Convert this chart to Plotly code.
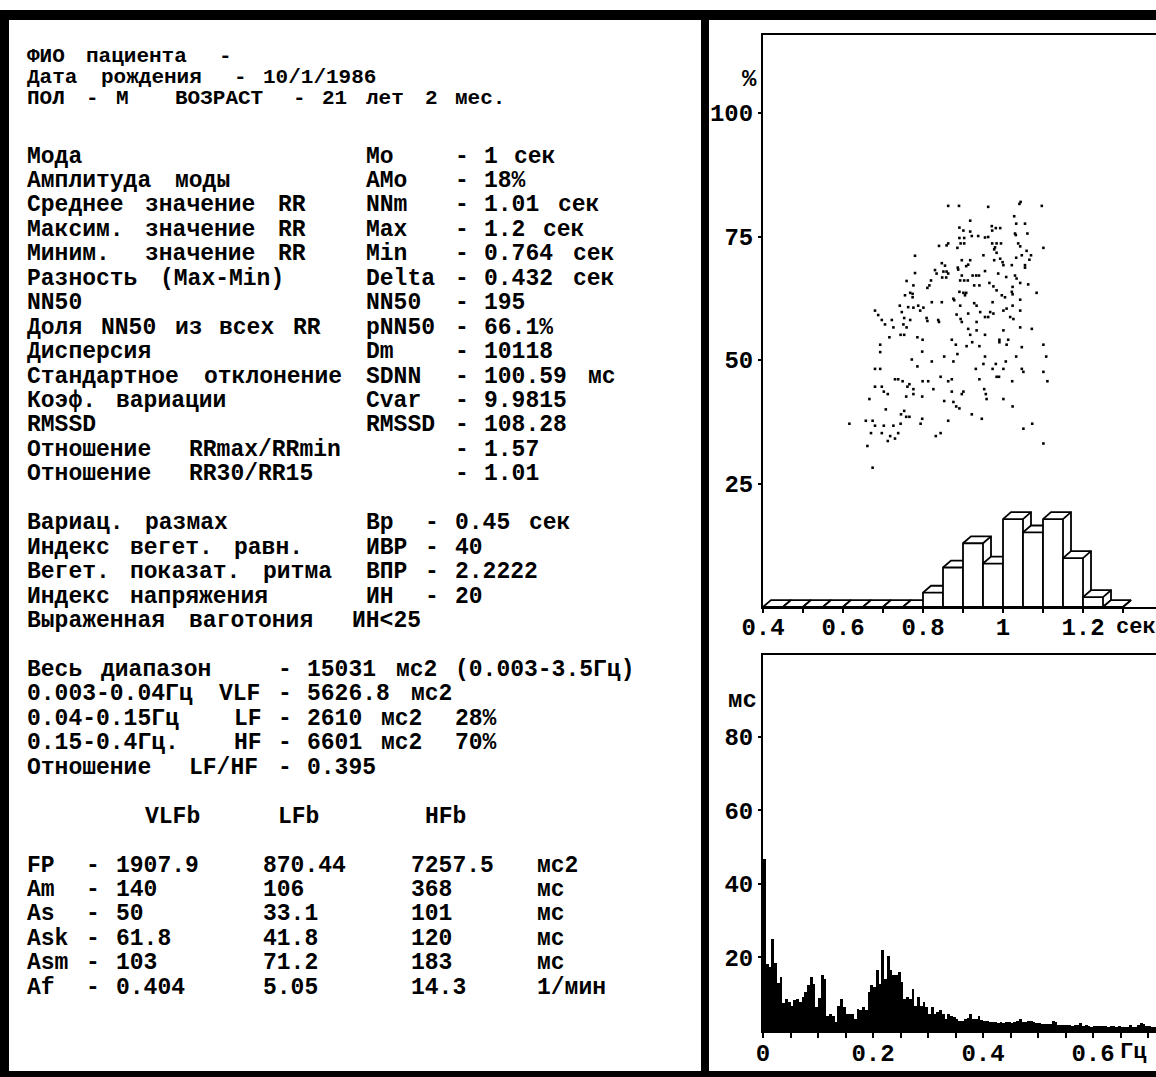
import re
import plotly.graph_objects as go

W, H = 1156, 1077

# ---------------- data ----------------
# RR-interval histogram (bins of 0.05 s), percent
HIST_BIN_START = [0.40, 0.45, 0.50, 0.55, 0.60, 0.65, 0.70, 0.75, 0.80,
                  0.85, 0.90, 0.95, 1.00, 1.05, 1.10, 1.15, 1.20, 1.25]
HIST_PCT = [0, 0, 0, 0, 0, 0, 0, 0, 2.9, 8.0, 12.9, 8.8, 17.8, 15.1, 17.8, 9.9, 2.0, 0]
BIN_WIDTH = 0.05

# scatter cloud drawn over the histogram
SCAT_X = [
    0.863, 0.890, 0.963, 1.044, 1.041, 1.097, 1.028, 0.918, 1.033, 1.055,
    0.891, 0.901, 0.972, 0.982, 0.993, 0.973, 0.918, 0.922, 0.938, 0.955,
    0.963, 1.030, 1.061, 1.032, 0.891, 0.903, 0.894, 0.903, 0.973, 0.984,
    0.995, 0.980, 0.978, 1.038, 1.043, 0.840, 0.859, 0.863, 0.886, 1.101,
    0.984, 1.059, 0.780, 0.951, 0.897, 0.918, 0.913, 0.908, 0.887, 0.888,
    0.847, 0.855, 0.978, 0.993, 0.999, 1.001, 1.047, 1.033, 1.070, 1.066,
    1.022, 1.055, 1.055, 0.830, 0.851, 0.859, 0.863, 0.834, 0.780, 0.897,
    0.924, 0.933, 0.940, 0.955, 0.988, 1.030, 1.034, 1.008, 0.848, 0.858,
    0.820, 0.816, 0.811, 0.759, 0.776, 0.893, 0.903, 0.912, 0.928, 0.941,
    0.966, 0.976, 0.984, 1.043, 1.063, 1.024, 1.022, 1.024, 1.084, 0.768,
    0.774, 0.755, 0.774, 0.891, 0.901, 0.908, 0.905, 0.876, 0.878, 0.997,
    1.005, 0.847, 0.822, 0.788, 0.742, 0.763, 0.776, 0.801, 0.928, 0.934,
    0.974, 1.043, 1.024, 0.893, 0.680, 0.688, 0.697, 0.705, 0.722, 0.726,
    0.747, 0.753, 0.768, 0.793, 0.809, 0.811, 0.838, 0.840, 0.884, 0.894,
    0.897, 0.913, 0.934, 0.943, 0.955, 0.963, 0.968, 0.976, 1.001, 1.009,
    1.018, 1.026, 1.043, 0.751, 0.759, 0.913, 0.934, 1.001, 1.043, 1.072,
    0.716, 0.744, 0.753, 0.786, 0.799, 0.955, 0.918, 0.872, 0.882, 0.909,
    0.923, 0.941, 0.991, 0.991, 1.013, 1.009, 1.047, 1.101, 0.693, 0.693,
    0.798, 0.886, 0.853, 0.955, 1.033, 1.108, 0.772, 0.822, 0.876, 0.951,
    0.982, 1.007, 0.786, 0.680, 0.693, 0.932, 0.974, 1.001, 1.047, 1.051,
    1.101, 0.984, 0.990, 0.844, 0.941, 1.023, 1.111, 0.730, 0.738, 0.749,
    0.766, 0.761, 0.799, 0.813, 0.863, 0.872, 0.680, 0.697, 0.702, 0.712,
    0.776, 0.776, 0.758, 0.798, 0.826, 0.872, 0.897, 0.901, 0.953, 0.957,
    0.959, 1.001, 0.666, 0.853, 0.876, 0.883, 0.891, 1.024, 0.707, 0.753,
    0.745, 0.758, 0.766, 0.798, 0.794, 0.863, 0.922, 0.947, 0.616, 0.657,
    0.674, 0.680, 0.702, 0.726, 0.744, 0.670, 0.697, 0.718, 0.730, 0.738,
    0.712, 0.832, 0.844, 1.051, 1.073, 0.661, 0.674, 1.101,
]
SCAT_Y = [
    81.2, 81.2, 81.0, 82.0, 81.6, 81.2, 79.1, 78.2, 77.6, 77.6,
    76.8, 76.2, 77.1, 76.7, 76.7, 76.2, 76.0, 75.1, 75.1, 74.8,
    74.9, 75.6, 75.6, 75.3, 74.7, 74.7, 73.6, 73.6, 73.6, 73.6,
    73.6, 72.8, 72.4, 73.6, 73.0, 73.1, 73.2, 73.6, 72.7, 72.7,
    71.7, 72.1, 71.1, 71.2, 70.2, 70.2, 69.3, 69.0, 68.7, 68.3,
    69.6, 69.1, 70.2, 70.5, 69.8, 69.2, 71.2, 70.7, 71.2, 70.3,
    69.2, 69.2, 68.7, 68.2, 67.9, 67.9, 67.5, 67.5, 67.6, 67.1,
    67.1, 67.1, 67.1, 68.0, 67.5, 67.1, 66.5, 66.8, 66.7, 66.7,
    66.1, 65.1, 64.6, 66.0, 65.1, 66.1, 66.1, 66.1, 65.1, 65.1,
    65.6, 64.9, 64.1, 65.6, 65.3, 64.8, 63.8, 63.3, 63.6, 63.6,
    63.4, 63.1, 62.7, 63.8, 63.6, 63.6, 63.1, 62.4, 62.1, 63.1,
    62.7, 61.7, 61.7, 61.0, 61.0, 60.7, 60.6, 60.6, 61.5, 61.0,
    61.7, 62.2, 61.0, 61.0, 60.0, 59.1, 58.1, 57.2, 58.1, 56.6,
    59.7, 58.5, 58.1, 60.0, 58.5, 57.9, 58.1, 57.7, 59.2, 58.3,
    57.7, 59.4, 57.7, 59.7, 58.7, 58.7, 59.7, 59.4, 60.0, 60.4,
    58.7, 58.3, 60.0, 57.2, 56.6, 56.3, 56.0, 56.0, 56.6, 56.3,
    54.6, 55.1, 55.1, 54.6, 54.1, 55.1, 55.1, 54.1, 53.1, 52.8,
    53.6, 52.8, 54.1, 53.6, 54.1, 53.1, 52.6, 53.1, 53.1, 51.6,
    51.7, 51.2, 50.7, 50.7, 50.7, 50.7, 50.1, 49.7, 49.7, 49.2,
    49.2, 49.7, 48.7, 48.2, 48.2, 48.2, 48.2, 48.2, 48.2, 47.6,
    47.6, 46.6, 46.6, 46.6, 46.1, 45.7, 45.7, 46.1, 46.1, 45.7,
    45.1, 44.6, 45.7, 45.7, 45.7, 46.1, 44.6, 44.6, 43.6, 43.1,
    44.1, 43.1, 42.6, 42.6, 44.1, 43.6, 43.1, 43.6, 44.1, 43.1,
    42.1, 42.1, 42.1, 41.7, 41.5, 40.6, 40.2, 40.6, 40.0, 39.7,
    39.0, 38.5, 38.5, 38.1, 37.1, 37.7, 39.0, 38.1, 37.1, 37.7,
    37.7, 36.7, 36.7, 36.7, 37.1, 35.2, 35.2, 34.6, 34.1, 35.2,
    33.6, 34.6, 35.2, 36.1, 37.1, 32.6, 28.2, 33.1,
]

# spectrum (Hz, ms), frequency step 0.005 Hz
SPEC_STEP = 0.005
SPEC_AMP = [
    46.7, 18.3, 17.5, 25.0, 18.5, 13.0, 14.6, 7.5, 8.7, 7.8,
    6.9, 8.3, 8.7, 7.8, 9.2, 10.6, 12.4, 14.6, 12.8, 6.5,
    9.0, 15.1, 14.2, 4.0, 4.7, 4.2, 2.4, 6.9, 8.7, 6.5,
    4.7, 4.7, 4.7, 3.3, 6.0, 5.6, 6.5, 5.6, 10.6, 12.4,
    11.9, 16.5, 12.8, 21.9, 14.0, 20.3, 16.5, 15.1, 15.1, 16.0,
    13.3, 8.7, 9.2, 8.7, 11.5, 6.9, 9.2, 6.9, 7.8, 6.5,
    4.7, 6.5, 4.7, 5.1, 5.8, 4.7, 3.3, 4.5, 4.2, 3.7,
    3.3, 2.7, 2.7, 3.3, 3.5, 4.7, 3.3, 3.3, 4.0, 2.9,
    2.7, 2.7, 2.4, 2.4, 2.4, 2.2, 2.4, 2.2, 2.4, 2.4,
    2.3, 2.4, 2.6, 3.3, 2.4, 2.4, 2.6, 2.6, 2.4, 2.3,
    2.2, 2.0, 2.0, 1.9, 2.0, 2.7, 2.4, 1.6, 1.5, 1.5,
    1.5, 1.5, 1.4, 1.5, 1.6, 2.1, 1.3, 1.5, 1.3, 1.2,
    1.3, 1.3, 1.4, 1.3, 1.3, 1.2, 1.3, 1.3, 1.2, 1.3,
    1.2, 1.1, 1.1, 1.6, 1.2, 1.1, 1.5, 2.1, 1.8, 1.3,
    1.3, 1.2, 1.2, 1.1,
]
SPEC_FREQ = [round(i * SPEC_STEP, 3) for i in range(len(SPEC_AMP))]

# axis ticks
HIST_TICKS = [0.4, 0.5, 0.6, 0.7, 0.8, 0.9, 1.0, 1.1, 1.2, 1.3]
HIST_TICKTEXT = ["0.4", "", "0.6", "", "0.8", "", "1", "", "1.2", ""]
HIST_YTICKS = [25, 50, 75, 100]
SPEC_TICKS = [0, 0.05, 0.1, 0.15, 0.2, 0.25, 0.3, 0.35, 0.4, 0.45, 0.5, 0.55, 0.6, 0.65, 0.7]
SPEC_TICKTEXT = ["0", "", "", "", "0.2", "", "", "", "0.4", "", "", "", "0.6", "", ""]
SPEC_YTICKS = [20, 40, 60, 80]

# report text: (row, [(column, text), ...])
HEADER_ROWS = [
    (0, [(0, "ФИО пациента -")]),
    (1, [(0, "Дата рождения - 10/1/1986")]),
    (2, [(0, "ПОЛ - М"), (10, "ВОЗРАСТ - 21 лет 2 мес.")]),
]
STAT_ROWS = [
    (0, [(0, "Мода"), (23, "Mo"), (29, "- 1 сек")]),
    (1, [(0, "Амплитуда моды"), (23, "AMo"), (29, "- 18%")]),
    (2, [(0, "Среднее значение RR"), (23, "NNm"), (29, "- 1.01 сек")]),
    (3, [(0, "Максим. значение RR"), (23, "Max"), (29, "- 1.2 сек")]),
    (4, [(0, "Миним."), (8, "значение RR"), (23, "Min"), (29, "- 0.764 сек")]),
    (5, [(0, "Разность (Max-Min)"), (23, "Delta"), (29, "- 0.432 сек")]),
    (6, [(0, "NN50"), (23, "NN50"), (29, "- 195")]),
    (7, [(0, "Доля NN50 из всех RR"), (23, "pNN50"), (29, "- 66.1%")]),
    (8, [(0, "Дисперсия"), (23, "Dm"), (29, "- 10118")]),
    (9, [(0, "Стандартное отклонение"), (23, "SDNN"), (29, "- 100.59 мс")]),
    (10, [(0, "Коэф. вариации"), (23, "Cvar"), (29, "- 9.9815")]),
    (11, [(0, "RMSSD"), (23, "RMSSD"), (29, "- 108.28")]),
    (12, [(0, "Отношение"), (11, "RRmax/RRmin"), (29, "- 1.57")]),
    (13, [(0, "Отношение"), (11, "RR30/RR15"), (29, "- 1.01")]),
    (15, [(0, "Вариац. размах"), (23, "Вр"), (27, "- 0.45 сек")]),
    (16, [(0, "Индекс вегет. равн."), (23, "ИВР - 40")]),
    (17, [(0, "Вегет. показат. ритма"), (23, "ВПР - 2.2222")]),
    (18, [(0, "Индекс напряжения"), (23, "ИН"), (27, "- 20")]),
    (19, [(0, "Выраженная ваготония"), (22, "ИН<25")]),
    (21, [(0, "Весь диапазон"), (17, "- 15031 мс2 (0.003-3.5Гц)")]),
    (22, [(0, "0.003-0.04Гц VLF - 5626.8 мс2")]),
    (23, [(0, "0.04-0.15Гц"), (14, "LF - 2610 мс2"), (29, "28%")]),
    (24, [(0, "0.15-0.4Гц."), (14, "HF - 6601 мс2"), (29, "70%")]),
    (25, [(0, "Отношение"), (11, "LF/HF - 0.395")]),
    (27, [(8, "VLFb"), (17, "LFb"), (27, "HFb")]),
    (29, [(0, "FP"), (4, "- 1907.9"), (16, "870.44"), (26, "7257.5"), (34.6, "мс2")]),
    (30, [(0, "Am"), (4, "- 140"), (16, "106"), (26, "368"), (34.6, "мс")]),
    (31, [(0, "As"), (4, "- 50"), (16, "33.1"), (26, "101"), (34.6, "мс")]),
    (32, [(0, "Ask"), (4, "- 61.8"), (16, "41.8"), (26, "120"), (34.6, "мс")]),
    (33, [(0, "Asm"), (4, "- 103"), (16, "71.2"), (26, "183"), (34.6, "мс")]),
    (34, [(0, "Af"), (4, "- 0.404"), (16, "5.05"), (26, "14.3"), (34.6, "1/мин")]),
]

# ---------------- style ----------------
FONT = "Liberation Mono"
TXT = dict(family=FONT, size=23, color="black", weight="bold")
HDR = dict(family=FONT, size=21, color="black", weight="bold")
TICKF = dict(family=FONT, size=24, color="black", weight="bold")
UNITF = dict(family=FONT, size=22, color="black", weight="bold")
TEXT_X0, CELL_W = 26, 14.75
HEADER_Y0, HEADER_DY = 57, 20.5
STAT_Y0, STAT_DY = 156.5, 24.45
DEPTH_X, DEPTH_Y = 0.02, 1.4

X_LEFT = 763
TOP_Y0, TOP_BASE, TOP_SCALE = 35, 607, 4.94
BOT_Y0, BOT_BASE, BOT_SCALE = 655, 1031, 3.68

fig = go.Figure()

# 3D histogram bars
for start, pct in zip(HIST_BIN_START, HIST_PCT):
    x0, x1 = start, start + BIN_WIDTH
    fig.add_trace(go.Scatter(
        x=[x0, x0, x0 + DEPTH_X, x1 + DEPTH_X, x1 + DEPTH_X, x1, x0],
        y=[0, pct, pct + DEPTH_Y, pct + DEPTH_Y, DEPTH_Y, 0, 0],
        mode="lines", fill="toself", fillcolor="white",
        line=dict(color="black", width=1.8), hoverinfo="skip",
        xaxis="x", yaxis="y"))
    fig.add_trace(go.Scatter(
        x=[x0, x1, x1, None, x1, x1 + DEPTH_X],
        y=[pct, pct, 0, None, pct, pct + DEPTH_Y],
        mode="lines", line=dict(color="black", width=1.8),
        hoverinfo="skip", xaxis="x", yaxis="y"))

fig.add_trace(go.Scatter(
    x=SCAT_X, y=SCAT_Y, mode="markers",
    marker=dict(symbol="square", size=2.6, color="black", line=dict(width=0)),
    hoverinfo="skip", xaxis="x", yaxis="y"))

fig.add_trace(go.Bar(
    x=SPEC_FREQ, y=SPEC_AMP, width=SPEC_STEP, offset=0,
    marker=dict(color="black", line=dict(width=0)),
    hoverinfo="skip", xaxis="x2", yaxis="y2"))

axis_common = dict(showline=True, linecolor="black", linewidth=2,
                   showgrid=False, zeroline=False, ticks="outside",
                   tickcolor="black", tickwidth=2, tickfont=TICKF,
                   fixedrange=True, automargin=False)

fig.update_layout(
    width=W, height=H,
    margin=dict(l=0, r=0, t=0, b=0, pad=0, autoexpand=False),
    paper_bgcolor="white", plot_bgcolor="white", showlegend=False,
    bargap=0,
    xaxis=dict(domain=[X_LEFT / W, 1], range=[0.4, 0.4 + (W - X_LEFT) / 400],
               anchor="y", mirror=True, ticklen=4, ticklabelstandoff=-7,
               tickmode="array", tickvals=HIST_TICKS, ticktext=HIST_TICKTEXT,
               **axis_common),
    yaxis=dict(domain=[1 - TOP_BASE / H, 1 - TOP_Y0 / H],
               range=[0, (TOP_BASE - TOP_Y0) / TOP_SCALE], anchor="x",
               ticklen=3, tickmode="array", tickvals=HIST_YTICKS,
               ticktext=[str(v) for v in HIST_YTICKS], **axis_common),
    xaxis2=dict(domain=[X_LEFT / W, 1], range=[0, (W - X_LEFT) / 550],
                anchor="y2", mirror=True, ticklen=5, ticklabelstandoff=-6,
                tickmode="array", tickvals=SPEC_TICKS, ticktext=SPEC_TICKTEXT,
                **axis_common),
    yaxis2=dict(domain=[1 - BOT_BASE / H, 1 - BOT_Y0 / H],
                range=[0, (BOT_BASE - BOT_Y0) / BOT_SCALE], anchor="x2",
                ticklen=3, tickmode="array", tickvals=SPEC_YTICKS,
                ticktext=[str(v) for v in SPEC_YTICKS], **axis_common),
)

annotations = []


def add_text(x_px, y_px, text, font, xanchor="left"):
    annotations.append(dict(
        x=x_px / W, y=1 - y_px / H, xref="paper", yref="paper",
        text=text, showarrow=False, xanchor=xanchor, yanchor="middle",
        font=font, borderpad=0))


def add_rows(rows, y0, dy, font):
    for r, segs in rows:
        y = y0 + dy * r
        for col, seg in segs:
            for m in re.finditer(r"\S+", seg):
                add_text(TEXT_X0 + (col + m.start()) * CELL_W, y, m.group(0), font)


add_rows(HEADER_ROWS, HEADER_Y0, HEADER_DY, HDR)
add_rows(STAT_ROWS, STAT_Y0, STAT_DY, TXT)

# axis unit labels
add_text(750, 79, "%", TICKF, xanchor="center")
add_text(742, 700, "мс", TICKF, xanchor="center")
add_text(1115, 627, "сек", UNITF)
add_text(1119, 1052, "Гц", UNITF)

fig.update_layout(annotations=annotations)


# frame of the screen
def rect(x0, y0, x1, y1):
    return dict(type="rect", xref="paper", yref="paper",
                x0=x0 / W, x1=x1 / W, y0=1 - y1 / H, y1=1 - y0 / H,
                fillcolor="black", line=dict(width=0), layer="above")


fig.update_layout(shapes=[
    rect(0, 10, W, 20),
    rect(0, 10, 9, H),
    rect(701, 10, 709, H),
    rect(0, 1071, W, H),
])

fig.write_html("out.html")
